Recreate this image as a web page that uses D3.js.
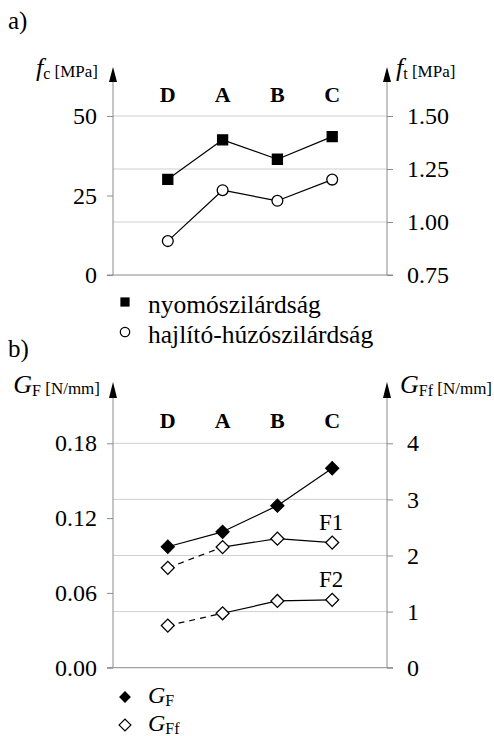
<!DOCTYPE html>
<html>
<head>
<meta charset="utf-8">
<script src="https://cdn.jsdelivr.net/npm/d3@7"></script>
<style>
  body { margin: 0; background: #fff; }
  svg text { font-family: "Liberation Serif", "DejaVu Serif", serif; fill: #000; }
</style>
</head>
<body>
<div id="chart"></div>
<script>
// Categories (mixes)
const categories = ["D", "A", "B", "C"];

// a) compressive / flexural tensile strength
const fcValues = [30.1, 42.5, 36.4, 43.5];
const ftValues = [0.91, 1.15, 1.10, 1.20];
const fcTicks = [0, 25, 50];
const ftTicks = [0.75, 1.00, 1.25, 1.50];

// b) fracture energy
const gfValues = [0.097, 0.109, 0.130, 0.160];
const gffF1 = [1.78, 2.15, 2.30, 2.23];
const gffF2 = [0.75, 0.97, 1.19, 1.21];
const gfTicks = [0.00, 0.06, 0.12, 0.18];
const gffTicks = [0, 1, 2, 3, 4];

const width = 494;
const height = 736;
const xLeft = 113;
const xRight = 387;
const axisColor = "#8a8a8a";
const gridColor = "#cfcfcf";
const serif = "'Liberation Serif', 'DejaVu Serif', serif";

const svg = d3.select("#chart")
  .append("svg")
  .attr("width", width)
  .attr("height", height)
  .attr("font-family", serif);

const xScale = d3.scalePoint()
  .domain(categories)
  .range([xLeft, xRight])
  .padding(1);

// marker generators
const squareSym = d3.symbol().type(d3.symbolSquare).size(100);
const circleSym = d3.symbol().type(d3.symbolCircle).size(92);
const diamondSym = d3.symbol().type(d3.symbolSquare).size(84);

// axis title with italic letter, subscript and unit
function axisTitle(x, y, anchor, main, sub, unit, size = 26) {
  const t = svg.append("text")
    .attr("x", x)
    .attr("y", y)
    .attr("text-anchor", anchor)
    .style("font-family", serif);
  t.append("tspan").attr("font-style", "italic").attr("font-size", size).text(main);
  t.append("tspan").attr("font-size", 16).attr("dy", 3).text(sub);
  if (unit) t.append("tspan").attr("font-size", 17).attr("dy", -2).text(" " + unit);
}

function drawPanel(p) {
  const yL = d3.scaleLinear().domain(p.leftDomain).range([p.yBottom, p.yTop]);
  const yR = d3.scaleLinear().domain(p.rightDomain).range([p.yBottom, p.yTop]);

  // gridlines at right-hand ticks
  svg.append("g")
    .selectAll("line")
    .data(p.rightTicks.slice(1))
    .enter()
    .append("line")
    .attr("x1", xLeft)
    .attr("x2", xRight)
    .attr("y1", d => yR(d))
    .attr("y2", d => yR(d))
    .attr("stroke", gridColor)
    .attr("stroke-width", 1);

  // left axis
  const gl = svg.append("g")
    .attr("transform", `translate(${xLeft},0)`)
    .call(d3.axisLeft(yL).tickValues(p.leftTicks).tickFormat(p.leftFmt).tickSize(6).tickPadding(10));
  // right axis
  const gr = svg.append("g")
    .attr("transform", `translate(${xRight},0)`)
    .call(d3.axisRight(yR).tickValues(p.rightTicks).tickFormat(p.rightFmt).tickSize(6).tickPadding(14));

  [gl, gr].forEach(g => {
    g.attr("font-family", serif).attr("font-size", 24);
    g.select(".domain").remove();
    g.selectAll(".tick line").attr("stroke", axisColor);
    g.selectAll(".tick text")
      .style("font-family", serif)
      .attr("font-size", 24)
      .attr("fill", "#000");
  });

  // axis shafts with arrow heads
  [xLeft, xRight].forEach(x => {
    svg.append("line")
      .attr("x1", x).attr("x2", x)
      .attr("y1", p.yBottom).attr("y2", p.arrowBase)
      .attr("stroke", axisColor);
    svg.append("path")
      .attr("d", `M${x},${p.arrowTip}L${x - 4},${p.arrowBase}L${x + 4},${p.arrowBase}Z`)
      .attr("fill", "#000");
  });

  // bottom line
  svg.append("line")
    .attr("x1", xLeft - 6).attr("x2", xRight + 6)
    .attr("y1", p.yBottom).attr("y2", p.yBottom)
    .attr("stroke", axisColor);

  // category labels
  svg.append("g")
    .selectAll("text")
    .data(categories)
    .enter()
    .append("text")
    .attr("x", d => xScale(d))
    .attr("y", p.catY)
    .attr("text-anchor", "middle")
    .attr("font-weight", "bold")
    .attr("font-size", 22)
    .text(d => d);

  p.series.forEach(s => {
    const yS = s.axis === "left" ? yL : yR;
    const pts = s.values.map((v, i) => [xScale(categories[i]), yS(v)]);
    for (let i = 0; i < pts.length - 1; i++) {
      svg.append("line")
        .attr("x1", pts[i][0]).attr("y1", pts[i][1])
        .attr("x2", pts[i + 1][0]).attr("y2", pts[i + 1][1])
        .attr("stroke", "#000")
        .attr("stroke-width", 1.2)
        .attr("stroke-dasharray", (s.dashFirst && i === 0) ? "6,5" : null);
    }
    svg.append("g")
      .selectAll("path")
      .data(pts)
      .enter()
      .append("path")
      .attr("d", s.symbol)
      .attr("transform", d => `translate(${d[0]},${d[1]}) rotate(${s.rotate || 0})`)
      .attr("fill", s.fill)
      .attr("stroke", "#000")
      .attr("stroke-width", 1.3);
    if (s.label) {
      const last = pts[pts.length - 1];
      svg.append("text")
        .attr("x", last[0] - 1)
        .attr("y", last[1] - 13)
        .attr("text-anchor", "middle")
        .attr("font-size", 23)
        .text(s.label);
    }
  });
}

// panel a)
svg.append("text").attr("x", 8).attr("y", 29).attr("font-size", 25).text("a)");
axisTitle(98, 76, "end", "f", "c", "[MPa]");
axisTitle(396, 76, "start", "f", "t", "[MPa]");

drawPanel({
  yBottom: 275, yTop: 116, arrowTip: 67, arrowBase: 82, catY: 102,
  leftDomain: [0, 50], rightDomain: [0.75, 1.50],
  leftTicks: fcTicks, rightTicks: ftTicks,
  leftFmt: d3.format("d"), rightFmt: d3.format(".2f"),
  series: [
    { values: fcValues, axis: "left", symbol: squareSym(), fill: "#000" },
    { values: ftValues, axis: "right", symbol: circleSym(), fill: "#fff" }
  ]
});

// legend a)
svg.append("path").attr("d", squareSym.size(85)()).attr("transform", "translate(125,302)").attr("fill", "#000");
svg.append("text").attr("x", 148).attr("y", 313).attr("font-size", 25.5).text("nyomószilárdság");
svg.append("path").attr("d", circleSym.size(70)()).attr("transform", "translate(125,332)")
  .attr("fill", "#fff").attr("stroke", "#000").attr("stroke-width", 1.2);
svg.append("text").attr("x", 148).attr("y", 343).attr("font-size", 25.5).text("hajlító-húzószilárdság");

// panel b)
svg.append("text").attr("x", 8).attr("y", 357).attr("font-size", 25).text("b)");
axisTitle(100, 393, "end", "G", "F", "[N/mm]");
axisTitle(400, 393, "start", "G", "Ff", "[N/mm]");

drawPanel({
  yBottom: 667.7, yTop: 443.3, arrowTip: 382, arrowBase: 398, catY: 428,
  leftDomain: [0, 0.18], rightDomain: [0, 4],
  leftTicks: gfTicks, rightTicks: gffTicks,
  leftFmt: d3.format(".2f"), rightFmt: d3.format("d"),
  series: [
    { values: gfValues, axis: "left", symbol: diamondSym(), rotate: 45, fill: "#000" },
    { values: gffF1, axis: "right", symbol: diamondSym(), rotate: 45, fill: "#fff", dashFirst: true, label: "F1" },
    { values: gffF2, axis: "right", symbol: diamondSym(), rotate: 45, fill: "#fff", dashFirst: true, label: "F2" }
  ]
});

// legend b)
svg.append("path").attr("d", diamondSym.size(70)()).attr("transform", "translate(125,697) rotate(45)").attr("fill", "#000");
axisTitle(148, 703, "start", "G", "F", null, 24);
svg.append("path").attr("d", diamondSym.size(70)()).attr("transform", "translate(125,725) rotate(45)")
  .attr("fill", "#fff").attr("stroke", "#000").attr("stroke-width", 1.2);
axisTitle(148, 731, "start", "G", "Ff", null, 24);
</script>
</body>
</html>
